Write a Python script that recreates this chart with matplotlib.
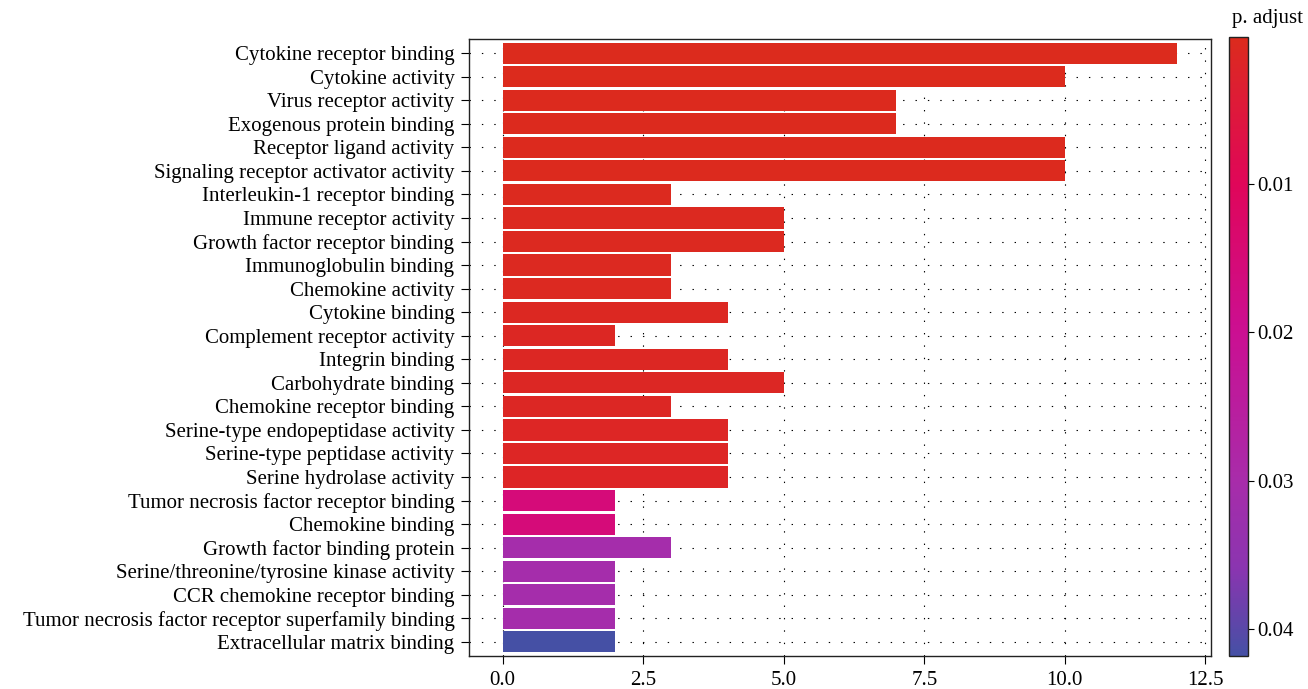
import matplotlib
matplotlib.use("Agg")
import matplotlib.pyplot as plt
import numpy as np
from matplotlib.colors import LinearSegmentedColormap, Normalize
from matplotlib.cm import ScalarMappable

plt.rcParams['font.family'] = ['Liberation Serif', 'DejaVu Serif']

categories = [
    "Cytokine receptor binding",
    "Cytokine activity",
    "Virus receptor activity",
    "Exogenous protein binding",
    "Receptor ligand activity",
    "Signaling receptor activator activity",
    "Interleukin-1 receptor binding",
    "Immune receptor activity",
    "Growth factor receptor binding",
    "Immunoglobulin binding",
    "Chemokine activity",
    "Cytokine binding",
    "Complement receptor activity",
    "Integrin binding",
    "Carbohydrate binding",
    "Chemokine receptor binding",
    "Serine-type endopeptidase activity",
    "Serine-type peptidase activity",
    "Serine hydrolase activity",
    "Tumor necrosis factor receptor binding",
    "Chemokine binding",
    "Growth factor binding protein",
    "Serine/threonine/tyrosine kinase activity",
    "CCR chemokine receptor binding",
    "Tumor necrosis factor receptor superfamily binding",
    "Extracellular matrix binding",
]
counts = [12, 10, 7, 7, 10, 10, 3, 5, 5, 3, 3, 4, 2, 4, 5, 3, 4, 4, 4,
          2, 2, 3, 2, 2, 2, 2]
p_adjust = [0.0001, 0.0002, 0.0003, 0.0003, 0.0004, 0.0004, 0.0005, 0.0006,
            0.0007, 0.0008, 0.0009, 0.0010, 0.0011, 0.0012, 0.0013, 0.0014,
            0.0015, 0.0015, 0.0016, 0.0155, 0.0155, 0.0305, 0.0305, 0.0305,
            0.0305, 0.0418]
cbar_ticks = [0.01, 0.02, 0.03, 0.04]

vmin, vmax = 0.0001, 0.0418
stops = [(0.0001, "#DC2B1D"), (0.010, "#E0065A"), (0.020, "#CB0F92"),
         (0.030, "#A82CAA"), (0.036, "#8A35B0"), (0.0418, "#4550A5")]
cmap = LinearSegmentedColormap.from_list(
    "padj", [((v - vmin) / (vmax - vmin), c) for v, c in stops])
norm = Normalize(vmin=vmin, vmax=vmax)

FS = 15
W, H = 1308, 689
fig = plt.figure(figsize=(W / 100, H / 100), dpi=100)
ax = fig.add_axes([469 / W, 1 - 656 / H, (1211 - 469) / W, (656 - 39) / H])

n = len(categories)
ypos = np.arange(n)[::-1] + 1
dot = (0, (1.25, 9.9))
for x in [0, 2.5, 5, 7.5, 10, 12.5]:
    ax.axvline(x, color="black", lw=0.8, linestyle=dot, zorder=0)
for y in ypos:
    ax.axhline(y, color="black", lw=0.8, linestyle=dot, zorder=0)

ax.barh(ypos, counts, height=0.9, color=[cmap(norm(p)) for p in p_adjust],
        zorder=2)
ax.set_xlim(-0.6, 12.6)
ax.set_ylim(0.4, n + 0.6)
ax.set_yticks(ypos)
ax.set_yticklabels(categories, fontsize=FS)
ax.set_xticks([0, 2.5, 5, 7.5, 10, 12.5])
ax.set_xticklabels(["0.0", "2.5", "5.0", "7.5", "10.0", "12.5"], fontsize=FS)
ax.tick_params(length=6, width=0.8, color="black", labelcolor="black")
ax.tick_params(axis="y", pad=4.5)
ax.tick_params(axis="x", pad=4.5)
for s in ax.spines.values():
    s.set_linewidth(1.0)
    s.set_color("#222222")

cax = fig.add_axes([1229 / W, 1 - 656 / H, (1248 - 1229) / W, (656 - 37) / H])
cb = fig.colorbar(ScalarMappable(norm=norm, cmap=cmap), cax=cax)
cax.set_ylim(vmax, vmin)
cb.set_ticks(cbar_ticks)
cb.set_ticklabels(["0.01", "0.02", "0.03", "0.04"])
cax.tick_params(length=4, width=0.8, labelsize=FS, pad=3)
cb.outline.set_linewidth(1.0)
cb.outline.set_edgecolor("#222222")
fig.text(1232 / W, 1 - 19 / H, "p. adjust", fontsize=FS, ha="left", va="center")

fig.savefig("out.png", dpi=100)
